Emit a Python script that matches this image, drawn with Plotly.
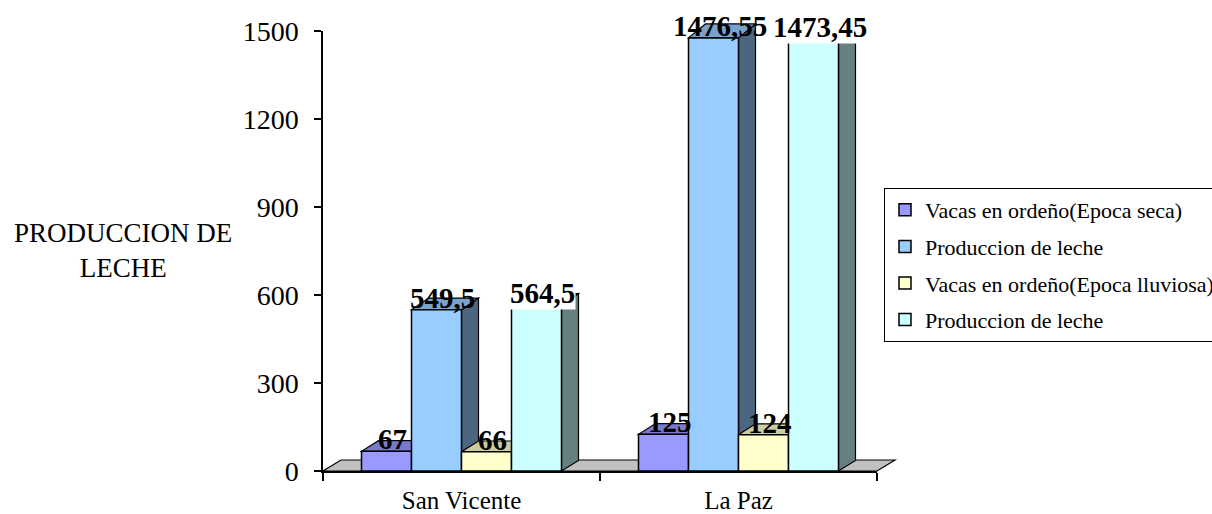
import plotly.graph_objects as go

# ---------------- data ----------------
categories = ["San Vicente", "La Paz"]
series_names = [
    "Vacas en ordeño(Epoca seca)",
    "Produccion de leche",
    "Vacas en ordeño(Epoca lluviosa)",
    "Produccion de leche",
]
vacas_seca = [67, 125]
leche_seca = [549.5, 1476.55]
vacas_lluviosa = [66, 124]
leche_lluviosa = [564.5, 1473.45]
y_ticks = [0, 300, 600, 900, 1200, 1500]
y_title = "PRODUCCION DE<br>LECHE"

series = [vacas_seca, leche_seca, vacas_lluviosa, leche_lluviosa]
front_colors = ["#9999FF", "#99CCFF", "#FFFFCC", "#CCFFFF"]
label_bg = [None, None, None, "white"]

FONT = "Liberation Serif, Times New Roman, serif"

# ---------------- geometry / styling ----------------
W_FIG, H_FIG = 1212, 514
M_L, M_R, M_T, M_B = 323, 335, 31, 43
PW = W_FIG - M_L - M_R
PH = H_FIG - M_T - M_B
X0, X1 = -0.5, len(categories) - 0.5
Y0, Y1 = y_ticks[0], y_ticks[-1]
BAR_W = 0.1805
DEPTH_X = 17      # px
DEPTH_Y0 = 10.5   # px at floor
DEPTH_YGROW = 3.5 # extra px at top of scale


def shade(hexcol, f):
    h = hexcol.lstrip("#")
    r, g, b = (int(h[i:i + 2], 16) for i in (0, 2, 4))
    return "#%02X%02X%02X" % (int(r * f), int(g * f), int(b * f))


def fx(x):
    return (x - X0) / (X1 - X0)


def fy(y):
    return (y - Y0) / (Y1 - Y0)


def px_to_paper(px, py):
    return (px - M_L) / PW, 1 - (py - M_T) / PH


def dy_at(v):
    return DEPTH_Y0 + DEPTH_YGROW * fy(v)


def path(points):
    s = "M %f,%f" % points[0]
    for p in points[1:]:
        s += " L %f,%f" % p
    return s + " Z"


shapes = []
# floor
fdx, fdy = 18 / PW, 11 / PH
shapes.append(dict(
    type="path", xref="x domain", yref="y domain", layer="below",
    path=path([(fx(X0), fy(0)), (fx(X1), fy(0)), (fx(X1) + fdx, fy(0) + fdy), (fx(X0) + fdx, fy(0) + fdy)]),
    fillcolor="#C0C0C0", line=dict(color="black", width=1.2),
))

offsets = [-2 * BAR_W + i * BAR_W for i in range(len(series))]

fig = go.Figure()
annotations = []
for ci in range(len(categories)):
    for si, vals in enumerate(series):
        v = vals[ci]
        xl = ci + offsets[si]
        xr = xl + BAR_W
        dx = DEPTH_X / PW
        dyt = dy_at(v) / PH
        dyb = DEPTH_Y0 / PH
        # side face
        shapes.append(dict(
            type="path", xref="x domain", yref="y domain", layer="below",
            path=path([(fx(xr), fy(0)), (fx(xr), fy(v)), (fx(xr) + dx, fy(v) + dyt), (fx(xr) + dx, fy(0) + dyb)]),
            fillcolor=shade(front_colors[si], 0.5), line=dict(color="black", width=1.2),
        ))
        # top face
        shapes.append(dict(
            type="path", xref="x domain", yref="y domain", layer="below",
            path=path([(fx(xl), fy(v)), (fx(xr), fy(v)), (fx(xr) + dx, fy(v) + dyt), (fx(xl) + dx, fy(v) + dyt)]),
            fillcolor=shade(front_colors[si], 0.8), line=dict(color="black", width=1.2),
        ))
        txt = ("%g" % v).replace(".", ",")
        ann = dict(
            x=xl + BAR_W / 2, y=v, xref="x", yref="y", text="<b>%s</b>" % txt,
            showarrow=False, xanchor="center", yanchor="bottom", xshift=6, yshift=-5,
            font=dict(family=FONT, size=29, color="black"), borderpad=0,
        )
        if label_bg[si]:
            ann["bgcolor"] = label_bg[si]
        annotations.append(ann)

for si, vals in enumerate(series):
    fig.add_trace(go.Bar(
        x=categories, y=vals, name=series_names[si],
        width=[BAR_W] * len(categories), offset=[offsets[si]] * len(categories),
        marker=dict(color=front_colors[si], line=dict(color="black", width=1.5)),
        legendgroup="g%d" % si,
    ))

tx, ty = px_to_paper(123, 250)
annotations.append(dict(
    x=tx, y=ty, xref="paper", yref="paper", text=y_title,
    showarrow=False, xanchor="center", yanchor="middle", align="center",
    font=dict(family=FONT, size=27, color="black"),
))

lx, ly = px_to_paper(884, 188)
fig.update_layout(
    width=W_FIG, height=H_FIG, autosize=False,
    margin=dict(l=M_L, r=M_R, t=M_T, b=M_B, pad=0, autoexpand=False),
    paper_bgcolor="white", plot_bgcolor="rgba(0,0,0,0)",
    barmode="overlay",
    font=dict(family=FONT, color="black"),
    shapes=shapes, annotations=annotations,
    showlegend=True,
    legend=dict(
        x=lx, y=ly, xanchor="left", yanchor="top",
        bordercolor="black", borderwidth=1, bgcolor="white",
        font=dict(family=FONT, size=22, color="black"),
        itemwidth=30, tracegroupgap=5, traceorder="grouped",
    ),
    xaxis=dict(
        type="category", range=[X0, X1], tickson="boundaries", automargin=False,
        showline=True, linecolor="black", linewidth=1.5,
        ticks="outside", ticklen=8, tickcolor="black", tickwidth=1.5,
        tickfont=dict(family=FONT, size=25, color="black"),
        showgrid=False, zeroline=False, ticklabelstandoff=6,
    ),
    yaxis=dict(
        range=[Y0, Y1], tickvals=y_ticks, automargin=False,
        showline=True, linecolor="black", linewidth=1.5,
        ticks="outside", ticklen=7, tickcolor="black", tickwidth=1.5,
        tickfont=dict(family=FONT, size=28, color="black"),
        showgrid=False, zeroline=False, ticklabelstandoff=10,
    ),
)

fig.write_html("out.html")
